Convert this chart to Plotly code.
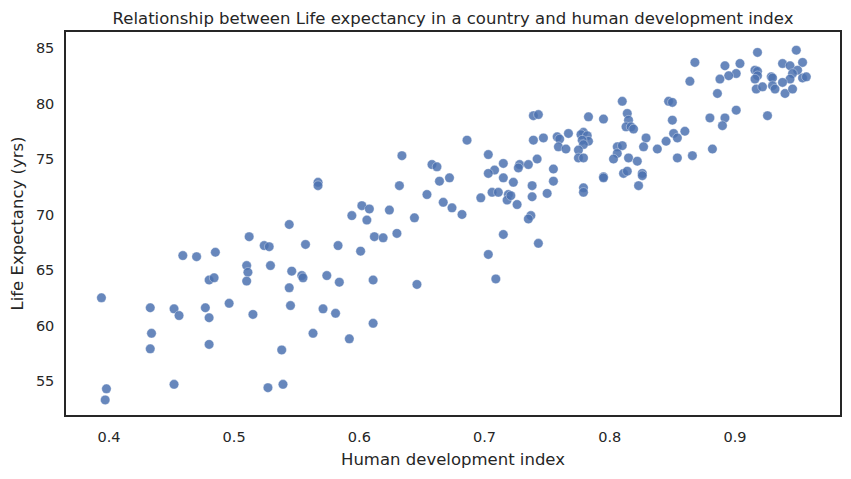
import plotly.graph_objects as go

hdi = [
    0.394, 0.433, 0.452, 0.456, 0.434, 0.433, 0.398, 0.397, 0.452, 0.459,
    0.470, 0.485, 0.512, 0.524, 0.528, 0.510, 0.511, 0.510, 0.529, 0.480,
    0.484, 0.477, 0.480, 0.496, 0.515, 0.480, 0.527, 0.539,
    0.567, 0.567, 0.632, 0.664, 0.672, 0.654, 0.667, 0.674, 0.682, 0.602,
    0.608, 0.624, 0.594, 0.606, 0.644, 0.544, 0.612, 0.619, 0.630, 0.601,
    0.557, 0.583, 0.546, 0.554, 0.555, 0.574, 0.584, 0.611, 0.646, 0.544,
    0.545, 0.571, 0.581, 0.611, 0.563, 0.592, 0.538, 0.634, 0.658, 0.662,
    0.810, 0.814, 0.815, 0.813, 0.817, 0.819, 0.829, 0.827, 0.838, 0.806,
    0.810, 0.806, 0.803, 0.815, 0.822, 0.811, 0.814, 0.826, 0.826, 0.823,
    0.795, 0.783, 0.779, 0.777, 0.782, 0.783, 0.778, 0.779, 0.775, 0.775,
    0.779, 0.795, 0.795, 0.779, 0.779, 0.767, 0.758, 0.760, 0.759, 0.765,
    0.739, 0.743, 0.739, 0.747, 0.742, 0.755, 0.755, 0.738, 0.738, 0.750,
    0.737, 0.735, 0.743, 0.686, 0.703, 0.715, 0.728, 0.727, 0.735, 0.708,
    0.703, 0.715, 0.723, 0.706, 0.711, 0.719, 0.718, 0.721, 0.726, 0.697,
    0.715, 0.703, 0.709,
    0.949, 0.918, 0.868, 0.892, 0.904, 0.954, 0.938, 0.944, 0.950, 0.946,
    0.944, 0.954, 0.957, 0.916, 0.918, 0.918, 0.916, 0.917, 0.929, 0.930,
    0.930, 0.932, 0.922, 0.938, 0.940, 0.946, 0.901, 0.895, 0.888, 0.864,
    0.886, 0.926, 0.901, 0.892, 0.890, 0.880, 0.882, 0.847, 0.850, 0.850,
    0.851, 0.854, 0.860, 0.845, 0.854, 0.866,
]

life_exp = [
    62.5, 61.6, 61.5, 60.9, 59.3, 57.9, 54.3, 53.3, 54.7, 66.3,
    66.2, 66.6, 68.0, 67.2, 67.1, 65.4, 64.8, 64.0, 65.4, 64.1,
    64.3, 61.6, 60.7, 62.0, 61.0, 58.3, 54.4, 54.7,
    72.9, 72.6, 72.6, 73.0, 73.3, 71.8, 71.1, 70.6, 70.0, 70.8,
    70.5, 70.4, 69.9, 69.5, 69.7, 69.1, 68.0, 67.9, 68.3, 66.7,
    67.3, 67.2, 64.9, 64.5, 64.3, 64.5, 63.9, 64.1, 63.7, 63.4,
    61.8, 61.5, 61.1, 60.2, 59.3, 58.8, 57.8, 75.3, 74.5, 74.3,
    80.2, 79.1, 78.5, 77.9, 77.9, 77.7, 76.9, 76.1, 75.9, 76.1,
    76.2, 75.5, 75.0, 75.1, 74.8, 73.7, 73.9, 73.7, 73.5, 72.6,
    78.6, 78.8, 77.4, 77.2, 77.1, 76.6, 76.7, 76.3, 75.8, 75.1,
    75.1, 73.4, 73.3, 72.4, 72.0, 77.3, 77.0, 76.8, 76.1, 75.9,
    78.9, 79.0, 76.7, 76.9, 75.0, 74.1, 73.0, 72.6, 71.6, 71.9,
    69.9, 69.6, 67.4, 76.7, 75.4, 74.6, 74.5, 74.2, 74.5, 74.0,
    73.7, 73.3, 72.9, 72.0, 72.0, 71.8, 71.3, 71.7, 70.9, 71.5,
    68.2, 66.4, 64.2,
    84.8, 84.6, 83.7, 83.4, 83.6, 83.7, 83.6, 83.4, 83.0, 82.7,
    82.2, 82.3, 82.4, 83.0, 82.9, 82.5, 82.2, 81.3, 82.4, 82.3,
    81.6, 81.3, 81.5, 81.9, 80.9, 81.3, 82.7, 82.5, 82.2, 82.0,
    80.9, 78.9, 79.4, 78.7, 78.0, 78.7, 75.9, 80.2, 80.1, 78.5,
    77.3, 76.9, 77.5, 76.6, 75.1, 75.3,
]

x_ticks = [0.4, 0.5, 0.6, 0.7, 0.8, 0.9]
y_ticks = [55, 60, 65, 70, 75, 80, 85]

fig = go.Figure()
fig.add_trace(go.Scatter(
    x=hdi, y=life_exp, mode="markers",
    marker=dict(size=9.5, color="rgba(76,114,176,0.85)",
                line=dict(color="rgba(255,255,255,0.6)", width=0.6)),
    showlegend=False,
))

font_family = "DejaVu Sans, sans-serif"
# page body has an 8px default margin, so the figure is sized to fill the rest
W, H = 843, 471
fig.update_layout(
    width=W, height=H,
    margin=dict(l=58, r=11, t=24, b=64, autoexpand=False),
    paper_bgcolor="white", plot_bgcolor="white",
    font=dict(family=font_family, color="#262626"),
    title=dict(text="Relationship between Life expectancy in a country and human development index",
               x=0.5, xref="paper", xanchor="center", y=1 - 10 / H, yanchor="middle",
               font=dict(size=16.5, color="#262626"), automargin=False),
)
fig.update_xaxes(
    range=[0.3657, 0.9839], tickvals=x_ticks, ticktext=[str(v) for v in x_ticks],
    showgrid=False, zeroline=False, showline=True, mirror=True, automargin=False,
    linecolor="#262626", linewidth=1.5, ticks="", tickfont=dict(size=14.5),
    ticklabelstandoff=8,
    title=dict(text="Human development index", font=dict(size=16.5), standoff=9),
)
fig.update_yaxes(
    range=[51.94, 86.44], tickvals=y_ticks, ticktext=[str(v) for v in y_ticks],
    showgrid=False, zeroline=False, showline=True, mirror=True, automargin=False,
    linecolor="#262626", linewidth=1.5, ticks="", tickfont=dict(size=14.5),
    ticklabelstandoff=7,
    title=dict(text="Life Expectancy (yrs)", font=dict(size=16.5), standoff=9),
)

fig.write_html("out.html")
